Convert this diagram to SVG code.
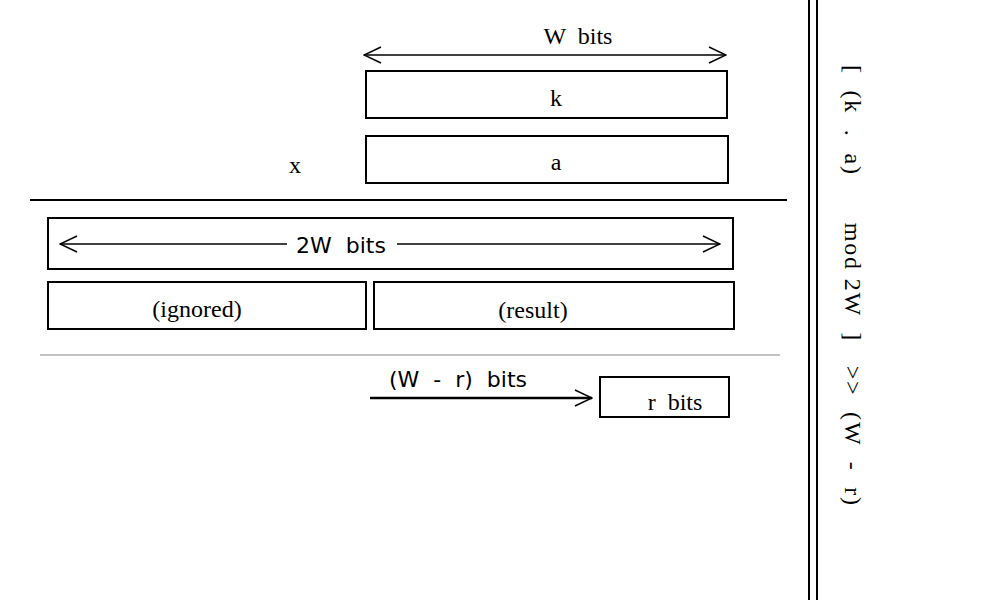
<svg xmlns="http://www.w3.org/2000/svg" width="1000" height="600" viewBox="0 0 1000 600">
<style>
text{white-space:pre}
.b{fill:none;stroke:#000;stroke-width:2}
.t{font-family:"Liberation Serif",serif;font-size:24px;fill:#000;text-anchor:middle}
.s{font-family:"DejaVu Sans",sans-serif;font-size:22px;fill:#000;text-anchor:middle}
.l{stroke:#000;stroke-width:1.5;fill:none}
</style>
<defs>
<marker id="o" viewBox="0 0 20 20" refX="19" refY="10" markerWidth="20" markerHeight="20" markerUnits="userSpaceOnUse" orient="auto-start-reverse"><path d="M2,2 L19,10 L2,18" fill="none" stroke="#000" stroke-width="1.5"/></marker>
</defs>
<rect width="1000" height="600" fill="#fff"/>
<g id="k"><rect class="b" x="366" y="71" width="361" height="47"/><text class="t" x="556" y="106">k</text></g>
<g id="a"><rect class="b" x="366" y="136" width="362" height="47"/><text class="t" x="556" y="170">a</text></g>
<g id="x"><text class="t" x="295" y="173">x</text></g>
<g id="w2"><rect class="b" x="48" y="218" width="685" height="51"/><text class="s" x="341" y="253">2W  bits</text></g>
<g id="ignored"><rect class="b" x="48" y="282" width="318" height="47"/><text class="t" x="197" y="317">(ignored)</text></g>
<g id="result"><rect class="b" x="374" y="282" width="360" height="47"/><text class="t" x="533" y="318">(result)</text></g>
<g id="rbits"><rect class="b" x="600" y="377" width="129" height="40"/><text class="t" x="675" y="410">r  bits</text></g>
<g id="labels">
<text class="t" x="578" y="44">W  bits</text>
<text class="s" x="458" y="387">(W  -  r)  bits</text>
<text class="t" transform="translate(845,285) rotate(90)" textLength="440" lengthAdjust="spacing">[  (k  .  a)      mod 2W  ]   &gt;&gt;  (W  -  r)</text>
</g>
<g id="connectors">
<line class="l" x1="364" y1="55" x2="726" y2="55" marker-start="url(#o)" marker-end="url(#o)"/>
<line class="l" x1="60" y1="244" x2="287" y2="244" marker-start="url(#o)"/>
<line class="l" x1="397" y1="244" x2="720" y2="244" marker-end="url(#o)"/>
<line stroke="#000" stroke-width="2.5" x1="370" y1="398" x2="592" y2="398" marker-end="url(#o)"/>
<line stroke="#000" stroke-width="2" x1="30" y1="200" x2="787" y2="200"/>
<line stroke="#888" stroke-width="1" x1="40" y1="355" x2="780" y2="355"/>
<line stroke="#000" stroke-width="2" x1="809" y1="0" x2="809" y2="600"/>
<line stroke="#000" stroke-width="2" x1="817" y1="0" x2="817" y2="600"/>
</g>
</svg>
